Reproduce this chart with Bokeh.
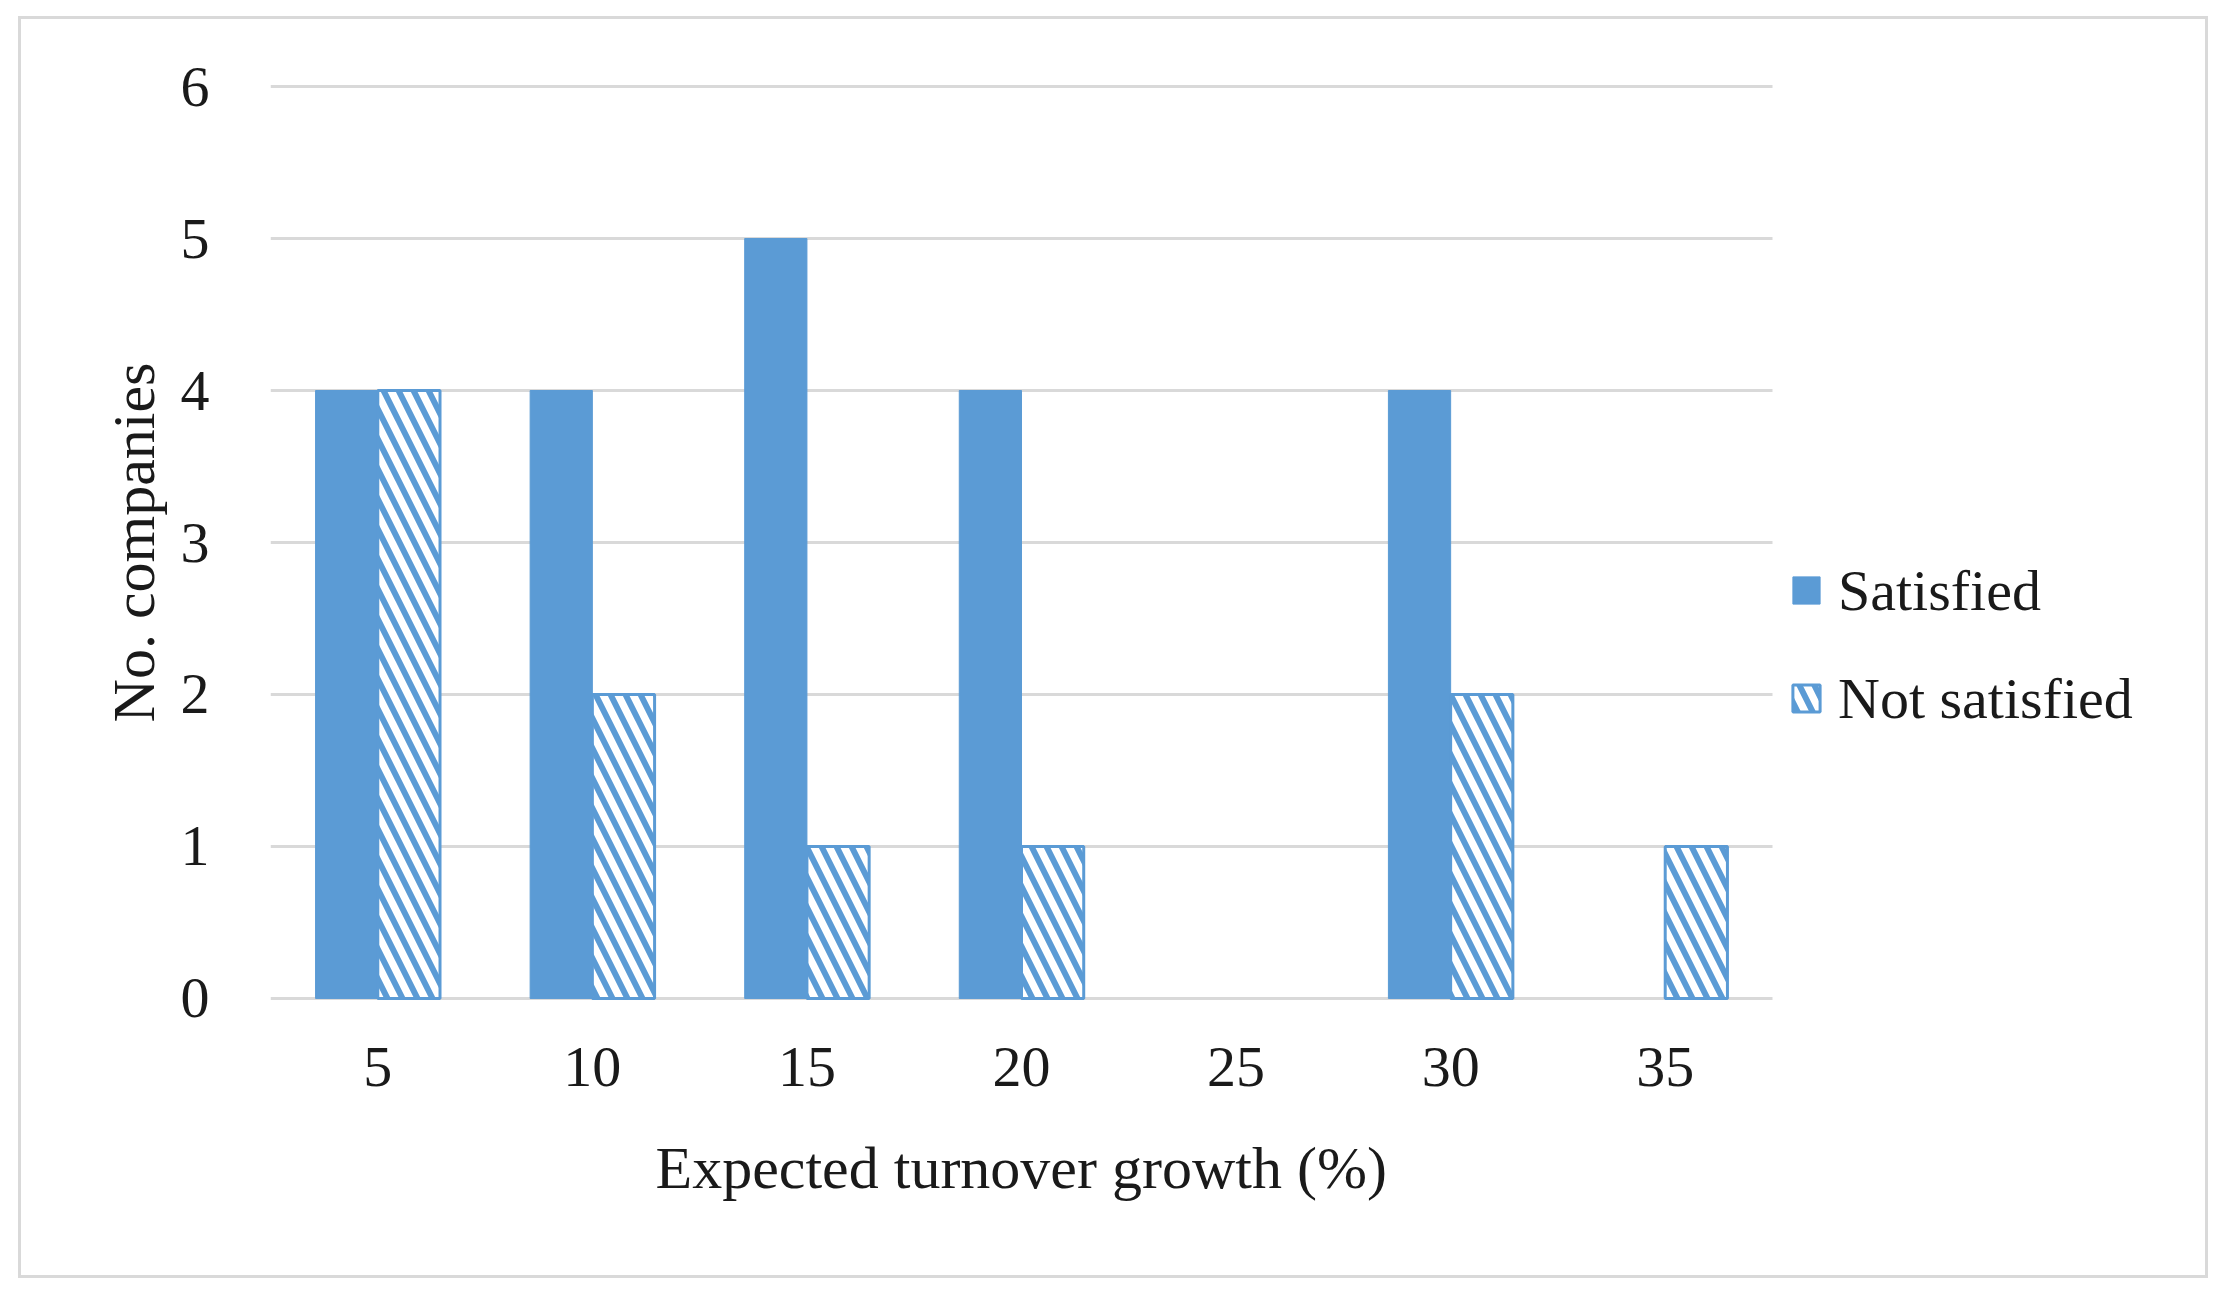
import numpy as np
from bokeh.plotting import figure
from bokeh.models import (ColumnDataSource, Range1d, FixedTicker, Legend, LegendItem, Title)
from bokeh.embed import file_html
from bokeh.resources import INLINE

# ---- data ----
growth = ["5", "10", "15", "20", "25", "30", "35"]
satisfied = [4, 4, 5, 4, 0, 4, 0]
not_satisfied = [4, 2, 1, 1, 0, 2, 1]
series_names = ["Satisfied", "Not satisfied"]
y_ticks = [0, 1, 2, 3, 4, 5, 6]
y_title = "No. companies"
x_title = "Expected turnover growth (%)"

BLUE = "#5B9BD5"
GRID = "#D9D9D9"
TXT = "#1a1a1a"
FONT = "Liberation Serif"
FS = "58px"
FT = "60px"

# category slots: one unit per category, centred at i + 0.5
centers = np.arange(len(growth)) + 0.5
BW = 0.29  # bar width (fraction of category)

src_s = ColumnDataSource(dict(x=[c - BW / 2 for c, v in zip(centers, satisfied) if v > 0],
                              v=[v for v in satisfied if v > 0]))
src_n = ColumnDataSource(dict(x=[c + BW / 2 for c, v in zip(centers, not_satisfied) if v > 0],
                              v=[v for v in not_satisfied if v > 0]))
src_g = ColumnDataSource(dict(y=y_ticks, x0=[0] * len(y_ticks), x1=[len(growth)] * len(y_ticks)))

border_css = """
:host::after {
  content: "";
  position: absolute;
  left: 18px; top: 16px;
  width: 2190px; height: 1262px;
  box-sizing: border-box;
  border: 3px solid #D9D9D9;
  pointer-events: none;
  z-index: 10;
}
"""

# frame: 270..2200 px wide; 7 categories take 1502 px of it
x_end = len(growth) * (2200 - 270) / 1502.0
p = figure(width=2208, height=1286, x_range=Range1d(0, x_end),
           y_range=Range1d(-0.02, 6.02), output_backend="svg",
           toolbar_location=None, min_border_left=270, min_border_right=8,
           min_border_top=83, min_border_bottom=285,
           stylesheets=[border_css])
p.outline_line_color = None
p.background_fill_color = "white"
p.border_fill_color = "white"
p.xgrid.grid_line_color = None
p.ygrid.grid_line_color = None

# horizontal gridlines over the category area only
p.segment(x0="x0", x1="x1", y0="y", y1="y", source=src_g, line_color=GRID, line_width=3)

r1 = p.vbar(x="x", top="v", bottom=0, width=BW, source=src_s,
            fill_color=BLUE, line_color=BLUE, line_width=1)
r2 = p.vbar(x="x", top="v", bottom=0, width=BW, source=src_n,
            fill_color="white", line_color=BLUE, line_width=3,
            hatch_pattern="left_diagonal_line", hatch_color=BLUE,
            hatch_scale=30, hatch_weight=6)

p.yaxis.ticker = FixedTicker(ticks=y_ticks)
p.xaxis.ticker = FixedTicker(ticks=list(centers))
p.xaxis.major_label_overrides = {float(c): g for c, g in zip(centers, growth)}

for ax in (p.xaxis[0], p.yaxis[0]):
    ax.axis_line_color = None
    ax.major_tick_line_color = None
    ax.minor_tick_line_color = None
    ax.major_label_text_font = FONT
    ax.major_label_text_font_size = FS
    ax.major_label_text_color = TXT
    ax.axis_label_text_font = FONT
    ax.axis_label_text_font_size = FT
    ax.axis_label_text_font_style = "normal"
    ax.axis_label_text_color = TXT

p.yaxis.axis_label = y_title
p.yaxis.major_label_standoff = 55
p.yaxis.axis_label_standoff = 11
p.xaxis.major_label_standoff = 40

# x title centred under the category area (the frame also holds the legend)
xt = Title(text=x_title, align="left", offset=385, standoff=88,
           text_font=FONT, text_font_size=FT, text_font_style="normal",
           text_color=TXT)
p.add_layout(xt, "below")

legend = Legend(items=[LegendItem(label=series_names[0], renderers=[r1]),
                       LegendItem(label=series_names[1], renderers=[r2])],
                location=(1519, 268), orientation="vertical")
legend.label_text_font = FONT
legend.label_text_font_size = FS
legend.label_text_color = TXT
legend.glyph_width = 34
legend.glyph_height = 34
legend.label_height = 70
legend.label_standoff = 15
legend.spacing = 38
legend.padding = 0
legend.margin = 0
legend.border_line_color = None
legend.background_fill_alpha = 0
p.add_layout(legend, "center")

open("out.html", "w").write(file_html(p, INLINE))
